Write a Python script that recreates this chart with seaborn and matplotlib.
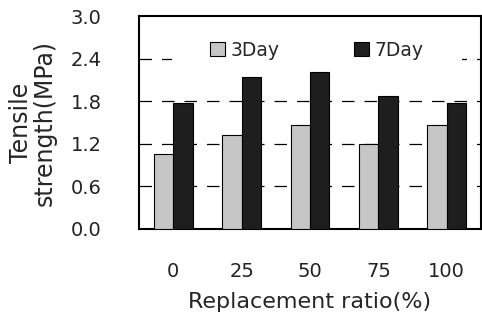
import matplotlib
matplotlib.use("Agg")
import matplotlib.pyplot as plt
import seaborn as sns
import pandas as pd
import numpy as np
from matplotlib.ticker import FixedLocator
from matplotlib.patches import Rectangle

categories = ["0", "25", "50", "75", "100"]
series_names = ["3Day", "7Day"]
day3 = [1.05, 1.33, 1.46, 1.20, 1.46]
day7 = [1.78, 2.14, 2.21, 1.87, 1.78]
yticks = [0.0, 0.6, 1.2, 1.8, 2.4, 3.0]

df = pd.DataFrame({
    "ratio": categories * 2,
    "series": [series_names[0]] * len(categories) + [series_names[1]] * len(categories),
    "value": day3 + day7,
})

sns.set_style("white")
plt.rcParams['font.family'] = ['DejaVu Sans']

fig = plt.figure(figsize=(4.82, 3.22), dpi=100)
ax = fig.add_axes([139/482, 1-229/322, (481-139)/482, (229-16)/322])

sns.barplot(data=df, x="ratio", y="value", hue="series", order=categories,
            hue_order=series_names, palette=["#c6c6c6", "#1e1e1e"],
            width=0.57, edgecolor="black", linewidth=0.8, ax=ax, zorder=3)

ax.set_ylim(0, 3.0)
ax.set_xlim(-0.5, 4.5)
ax.set_yticks(yticks)
ax.set_yticklabels([f"{v:.1f}" for v in yticks])
for y in yticks[1:-1]:
    ax.axhline(y, color="black", linestyle=(0, (10, 8)), linewidth=0.9, zorder=1)

# white band behind legend (interrupts the 2.4 gridline as in the reference)
ax.add_patch(Rectangle((0.096, 0.76), 0.848, 0.1, transform=ax.transAxes,
                       facecolor="white", edgecolor="none", zorder=2))

ax.tick_params(axis="y", length=0, pad=27, labelsize=14, colors="#222222")
ax.tick_params(axis="x", which="major", length=0, pad=24, labelsize=14, colors="#222222")
ax.xaxis.set_minor_locator(FixedLocator([0.5, 1.5, 2.5, 3.5]))
ax.tick_params(axis="x", which="minor", direction="in", length=5, width=1, color="black")

for s in ax.spines.values():
    s.set_visible(True)
    s.set_color("black")
    s.set_linewidth(1.5)

ax.set_xlabel("Replacement ratio(%)", fontsize=16, labelpad=8)
ax.set_ylabel("Tensile\nstrength(MPa)", fontsize=17, labelpad=10, linespacing=1.0)

leg = ax.legend(loc="center", bbox_to_anchor=(0.52, (229-50)/213), ncol=2,
                frameon=False, fontsize=13.5, handlelength=0.8, handleheight=0.8,
                handletextpad=0.3, columnspacing=4.0, borderpad=0.3)
leg.set_zorder(5)

fig.savefig("out.png", dpi=100)
